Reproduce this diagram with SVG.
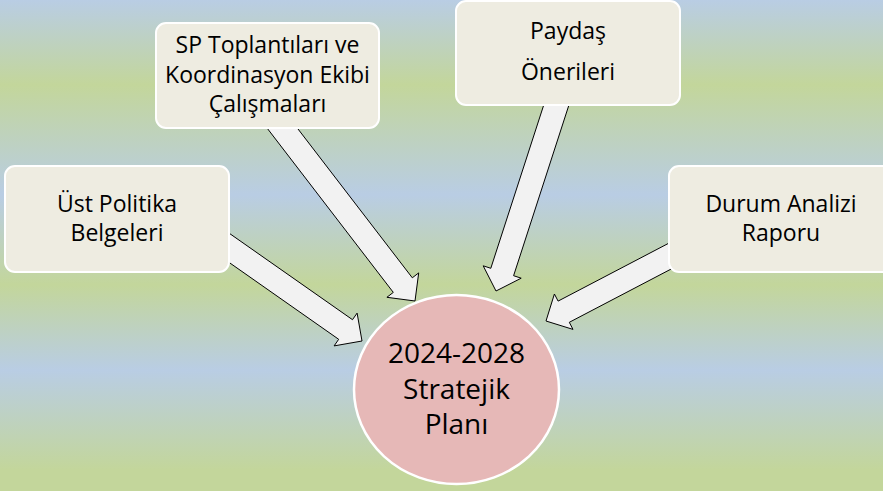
<svg xmlns="http://www.w3.org/2000/svg" width="883" height="491" viewBox="0 0 883 491">
  <defs>
    <linearGradient id="bg" x1="0" y1="0" x2="0" y2="1">
      <stop offset="0" stop-color="#B9CDE4"/>
      <stop offset="0.173" stop-color="#C3D69B"/>
      <stop offset="0.397" stop-color="#B9CDE4"/>
      <stop offset="0.58" stop-color="#C3D69B"/>
      <stop offset="0.754" stop-color="#B9CDE4"/>
      <stop offset="0.957" stop-color="#C3D69B"/>
      <stop offset="1" stop-color="#C3D69B"/>
    </linearGradient>
    <style>
      .box { fill: #EEECE1; stroke: #FFFFFF; stroke-width: 2; }
      .hub { fill: #E6B8B7; stroke: #FFFFFF; stroke-width: 2.5; }
      .arrow { fill: #F2F2F2; stroke: #000000; stroke-width: 1; stroke-linejoin: miter; }
      .lbl { font-family: "Open Sans", "Liberation Sans", sans-serif; font-size: 23px; fill: #000000; text-anchor: middle; }
      .hubl { font-family: "Open Sans", "Liberation Sans", sans-serif; font-size: 28px; fill: #000000; text-anchor: middle; }
    </style>
  </defs>
  <rect x="0" y="0" width="883" height="491" fill="url(#bg)"/>

  <g id="connectors">
    <polygon class="arrow" points="206.9,217.6 352.5,319.7 357.1,313.1 362,341 334.1,345.9 338.7,339.3 193.1,237.2"/>
    <polygon class="arrow" points="277.8,102.7 412.3,277.8 418.7,272.9 415,301 386.9,297.3 393.3,292.4 258.8,117.3"/>
    <polygon class="arrow" points="572.6,93.7 513.6,275.7 521.2,278.2 496,291 483.2,265.8 490.8,268.3 549.8,86.3"/>
    <polygon class="arrow" points="705.6,251 569.3,322.3 573,329.4 546,321 554.4,294 558.1,301.1 694.4,229.8"/>
  </g>

  <g id="node-ust-politika">
    <rect class="box" x="5" y="166" width="224" height="106" rx="10" ry="10"/>
    <text class="lbl" x="117" y="211.5">Üst Politika</text>
    <text class="lbl" x="117" y="240.5">Belgeleri</text>
  </g>

  <g id="node-sp-toplantilari">
    <rect class="box" x="156" y="23" width="223" height="105" rx="10" ry="10"/>
    <text class="lbl" x="267.5" y="53.3">SP Toplantıları ve</text>
    <text class="lbl" x="267.5" y="82.7">Koordinasyon Ekibi</text>
    <text class="lbl" x="267.5" y="111.7">Çalışmaları</text>
  </g>

  <g id="node-paydas">
    <rect class="box" x="456" y="1" width="224" height="104" rx="10" ry="10"/>
    <text class="lbl" x="568" y="39.3">Paydaş</text>
    <text class="lbl" x="568" y="80">Önerileri</text>
  </g>

  <g id="node-durum-analizi">
    <rect class="box" x="669" y="166" width="224" height="106" rx="10" ry="10"/>
    <text class="lbl" x="781" y="211.5">Durum Analizi</text>
    <text class="lbl" x="781" y="240.5">Raporu</text>
  </g>

  <g id="node-stratejik-plan">
    <ellipse class="hub" cx="456.5" cy="389.5" rx="102.5" ry="94.5"/>
    <text class="hubl" x="456.5" y="363.3">2024-2028</text>
    <text class="hubl" x="456.5" y="399">Stratejik</text>
    <text class="hubl" x="456.5" y="434.3">Planı</text>
  </g>
</svg>
